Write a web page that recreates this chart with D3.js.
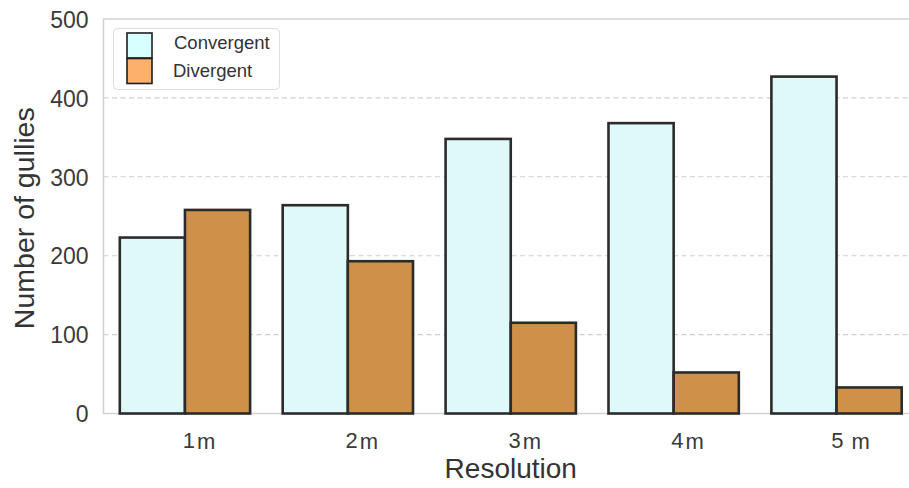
<!DOCTYPE html>
<html>
<head>
<meta charset="utf-8">
<script src="https://cdn.jsdelivr.net/npm/d3@7"></script>
<style>
  html, body { margin: 0; padding: 0; background: #fff; }
  svg { display: block; font-family: "Liberation Sans", Arial, sans-serif; }
</style>
</head>
<body>
<svg id="chart" width="909" height="488"></svg>
<script>
// Gully counts per DEM resolution
const categories = ["1m", "2m", "3m", "4m", "5m"];
const tickLabels = [["1", "m"], ["2", "m"], ["3", "m"], ["4", "m"], ["5", " m"]];
const seriesNames = ["Convergent", "Divergent"];
const convergent = [223, 264, 348, 368, 427];
const divergent = [258, 193, 115, 52, 33];
const yTicks = [0, 100, 200, 300, 400, 500];

const barFill = { Convergent: "#dff9f9", Divergent: "#cf9049" };
const legendFill = { Convergent: "#d8ffff", Divergent: "#fdaf6c" };

const svg = d3.select("#chart");
const margin = { left: 103.5, right: 918, top: 19, bottom: 413.5 };

const x = d3.scaleBand().domain(categories).range([margin.left, margin.right]).padding(0);
const xs = d3.scaleBand().domain(seriesNames)
  .range([x.bandwidth() * 0.1, x.bandwidth() * 0.9]).padding(0);
const y = d3.scaleLinear().domain([0, 500]).range([margin.bottom, margin.top]);

const rows = categories.map((c, i) => ({ cat: c, Convergent: convergent[i], Divergent: divergent[i] }));

// horizontal dashed grid
svg.append("g")
  .selectAll("line")
  .data(yTicks.filter(t => t > 0 && t < 500))
  .join("line")
  .attr("x1", margin.left).attr("x2", margin.right)
  .attr("y1", d => y(d)).attr("y2", d => y(d))
  .attr("stroke", "#cfcfcf").attr("stroke-width", 1.1)
  .attr("stroke-dasharray", "5,3.5");

// plot frame
svg.append("rect")
  .attr("x", margin.left).attr("y", margin.top)
  .attr("width", margin.right - margin.left).attr("height", margin.bottom - margin.top)
  .attr("fill", "none").attr("stroke", "#d2d2d2").attr("stroke-width", 1.5);

// bars
const groups = svg.append("g").selectAll("g")
  .data(rows).join("g")
  .attr("transform", d => `translate(${x(d.cat)},0)`);

groups.selectAll("rect")
  .data(d => seriesNames.map(s => ({ key: s, value: d[s] })))
  .join("rect")
  .attr("x", d => xs(d.key))
  .attr("width", xs.bandwidth())
  .attr("y", d => y(d.value))
  .attr("height", d => y(0) - y(d.value))
  .attr("fill", d => barFill[d.key])
  .attr("stroke", "#2b2b2b")
  .attr("stroke-width", 2.6);

// y axis
const yAxis = svg.append("g")
  .attr("transform", `translate(${margin.left},0)`)
  .call(d3.axisLeft(y).tickValues(yTicks).tickSize(0).tickPadding(15));
yAxis.select(".domain").remove();
yAxis.selectAll("text")
  .attr("font-size", 23)
  .attr("dy", "0.36em")
  .attr("fill", "#3a3a3a")
  .attr("font-family", "Liberation Sans, Arial, sans-serif");

// x axis
const xAxis = svg.append("g")
  .attr("transform", `translate(0,${margin.bottom})`)
  .call(d3.axisBottom(x).tickSize(0).tickPadding(0).tickFormat(() => ""));
xAxis.select(".domain").remove();
xAxis.selectAll(".tick").each(function (d, i) {
  const t = d3.select(this).append("text")
    .attr("x", 14).attr("y", 34)
    .attr("text-anchor", "middle")
    .attr("font-size", 22)
    .attr("fill", "#3a3a3a")
    .attr("font-family", "Liberation Sans, Arial, sans-serif");
  t.append("tspan").text(tickLabels[i][0]);
  t.append("tspan").attr("dx", 2).attr("dy", 1.5).text(tickLabels[i][1]).style("white-space", "pre");
});

// axis titles
svg.append("text")
  .attr("x", (margin.left + margin.right) / 2).attr("y", 478)
  .attr("text-anchor", "middle")
  .attr("font-size", 28).attr("fill", "#333")
  .text("Resolution");

svg.append("text")
  .attr("transform", `translate(34,${(margin.top + margin.bottom) / 2 + 2}) rotate(-90)`)
  .attr("text-anchor", "middle")
  .attr("font-size", 28.5).attr("fill", "#333")
  .text("Number of gullies");

// legend
const lg = svg.append("g");
lg.append("rect")
  .attr("x", 113.5).attr("y", 28.5).attr("width", 166).attr("height", 61)
  .attr("rx", 4).attr("fill", "#fff").attr("fill-opacity", 0.85)
  .attr("stroke", "#dcdcdc").attr("stroke-width", 1);
seriesNames.forEach((s, i) => {
  lg.append("rect")
    .attr("x", 127).attr("y", 33 + i * 25.5).attr("width", 25).attr("height", 25)
    .attr("fill", legendFill[s]).attr("stroke", "#1f1f1f").attr("stroke-width", 1.6);
  lg.append("text")
    .attr("x", i === 0 ? 174 : 173).attr("y", 48.5 + i * 28.5)
    .attr("font-size", 18.5).attr("fill", "#333")
    .text(s);
});
</script>
</body>
</html>
